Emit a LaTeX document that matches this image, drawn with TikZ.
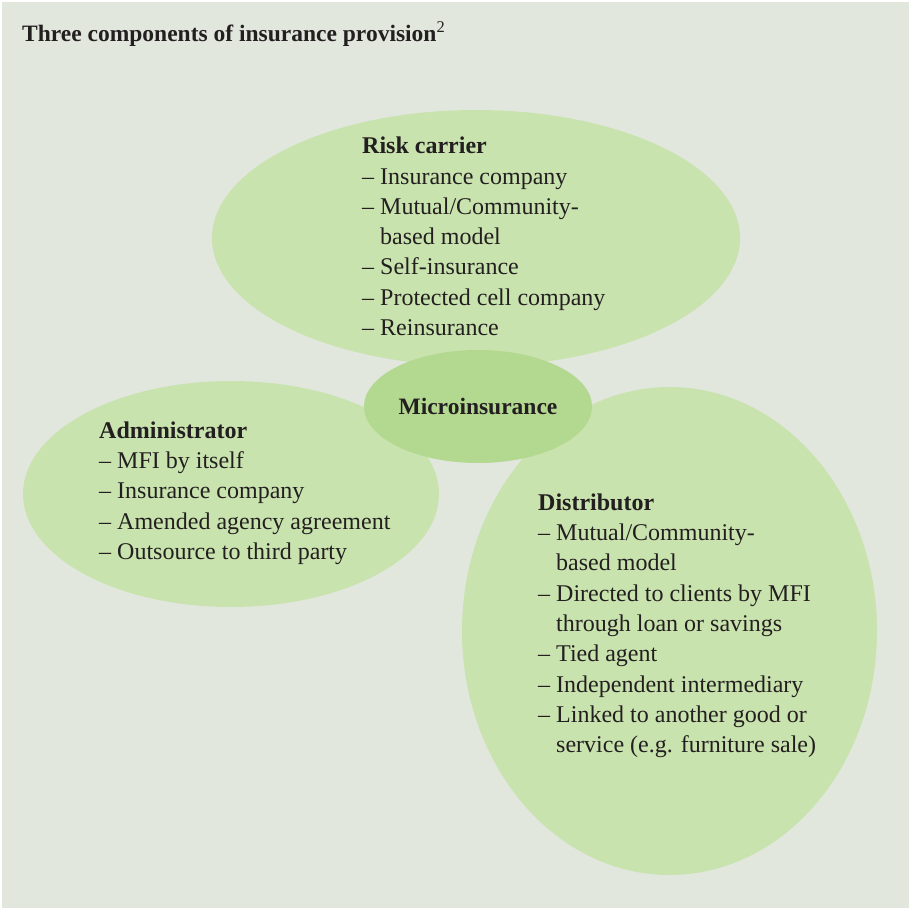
\documentclass[tikz,border=0pt]{standalone}
\usepackage{fontspec}
\setmainfont{Liberation Serif}
\usetikzlibrary{positioning,shapes.geometric}
\definecolor{panelbg}{HTML}{E1E7DD}
\definecolor{petalfill}{HTML}{C9E3AE}
\definecolor{hubfill}{HTML}{B3D88F}
\definecolor{inktext}{HTML}{231F20}
\newcommand{\hangsp}{\phantom{–\ }}
\tikzset{
  basic/.style   = {inner sep=0pt, text=inktext, font=\fontsize{24}{30.3}\selectfont},
  petal/.style   = {fill=petalfill},
  hub/.style     = {basic, ellipse, fill=hubfill, minimum width=228pt, minimum height=113pt,
                    font=\fontsize{23.5}{28}\selectfont\bfseries},
  listbox/.style = {basic, align=left, anchor=base west},
  caption/.style = {basic, anchor=base west, font=\fontsize{23.5}{28}\selectfont\bfseries}
}

\begin{document}
\begin{tikzpicture}[x=1pt,y=-1pt]
\useasboundingbox (0,0) rectangle (910,909);
\fill[panelbg] (2,2) rectangle (909,908);

% the three components
\path[petal] (476,238) ellipse [x radius=264, y radius=128];
\path[petal] (231,494) ellipse [x radius=208, y radius=113];
\path[petal] (669.5,631) ellipse [x radius=207.5, y radius=244];

\node[caption] (title) at (22,42) {Three components of insurance provision\textsuperscript{\mdseries 2}};

\node[hub] (micro) at (478,406.5) {Microinsurance};

% base anchor sits on the last line
\node[listbox] (risk) at (362,335.5) {\textbf{Risk carrier}\\
  – Insurance company\\
  – Mutual/Community-\\
  \hangsp based model\\
  – Self-insurance\\
  – Protected cell company\\
  – Reinsurance};
\node[listbox] (admin) at (99,559.4) {\textbf{Administrator}\\
  – MFI by itself\\
  – Insurance company\\
  – Amended agency agreement\\
  – Outsource to third party};
\node[listbox] (distrib) at (538,752.6) {\textbf{Distributor}\\
  – Mutual/Community-\\
  \hangsp based model\\
  – Directed to clients by MFI\\
  \hangsp through loan or savings\\
  – Tied agent\\
  – Independent intermediary\\
  – Linked to another good or\\
  \hangsp service (e.g. furniture sale)};
\end{tikzpicture}
\end{document}
